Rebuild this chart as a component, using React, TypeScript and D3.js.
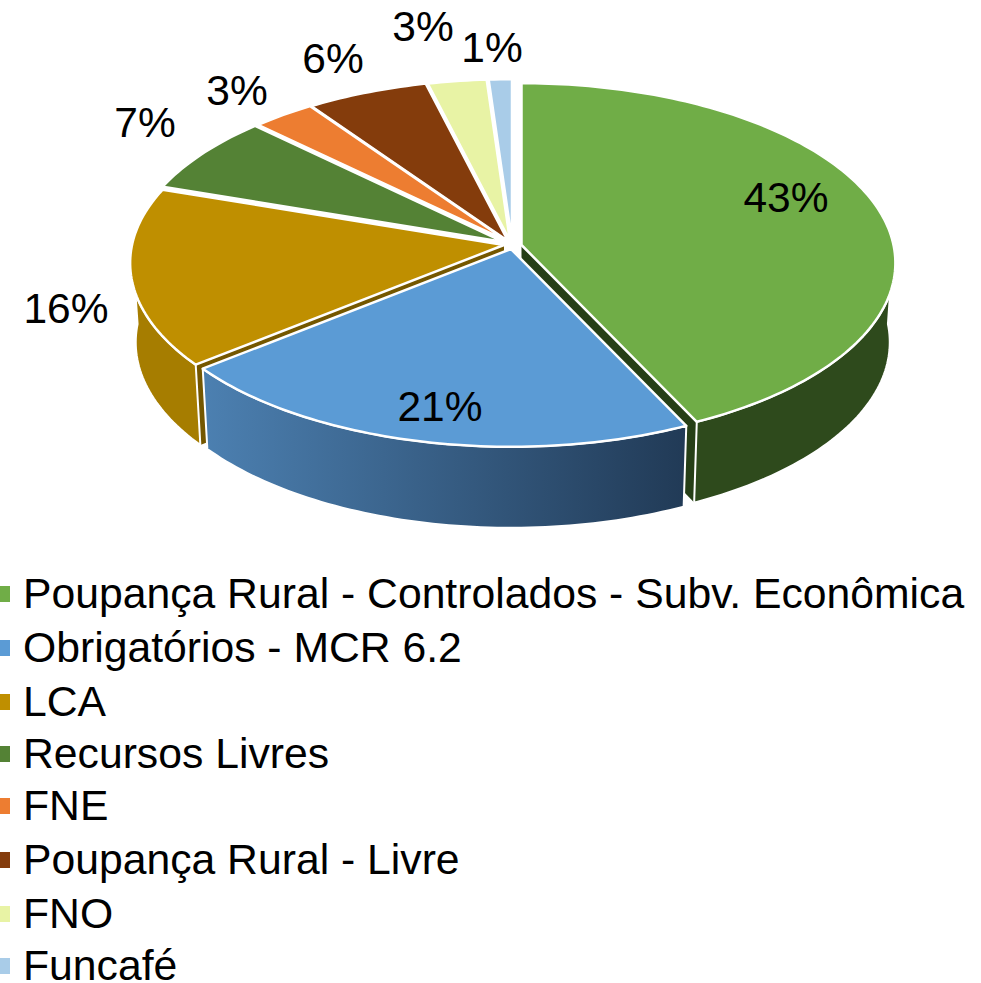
import React from 'react';
import * as d3 from 'd3';

const categories = [
  'Poupança Rural - Controlados - Subv. Econômica',
  'Obrigatórios - MCR 6.2',
  'LCA',
  'Recursos Livres',
  'FNE',
  'Poupança Rural - Livre',
  'FNO',
  'Funcafé',
];
// the labels show them rounded
const shares = [42.95, 21.2, 16.05, 7.1, 3, 5.8, 2.8, 1.1];
const colors = ['#70ad47', '#5b9bd5', '#bf8f00', '#548235', '#ed7d31', '#843c0c', '#e8f3a5', '#a9cce8'];
const wallColors = ['#2e4a1c', '', '#a67d00', '', '', '', '', ''];
const cutColors = ['#263f17', '', '#745700', '', '', '', '', ''];

// where each slice's tip ends up once the pie is pulled apart
const tips: [number, number][] = [
  [521.5, 245], [511, 249], [504, 245], [504, 242], [507, 241], [508, 241], [510, 241], [512, 241],
];
const labelSpots: [number, number][] = [
  [786, 198], [440, 407], [66, 309], [145, 123], [237, 91], [333, 59], [423, 27], [492, 48],
];
const legendRows = [594, 648, 702, 754, 806, 860, 914, 966];

const RX = 372;
const RY = 178;
const PERSP = 0.1;
const WALL = 79;
const FONT = 'Liberation Sans, Arial, sans-serif';

const pie = d3.pie<number>().sort(null).value((d) => d);
const arcs = pie(shares);

type Pt = [number, number];

function topPoint(tip: Pt, a: number): Pt {
  const u = Math.sin(a);
  const v = -Math.cos(a);
  const w = 1 - PERSP * v;
  return [tip[0] + (RX * u) / w, tip[1] + (RY * v) / w];
}

function bottomPoint(tip: Pt, p: Pt, a: number): Pt {
  const v = -Math.cos(a);
  return [tip[0] + (p[0] - tip[0]) * 0.985, p[1] + WALL + 2 * Math.max(v, 0)];
}

function arcPoints(tip: Pt, a0: number, a1: number): Pt[] {
  const n = Math.max(2, Math.ceil((a1 - a0) / 0.02));
  const step = d3.scaleLinear().domain([0, n]).range([a0, a1]);
  return d3.range(n + 1).map((i) => topPoint(tip, step(i)));
}

const line = d3.line<Pt>();

export default function App() {
  const order = [7, 6, 5, 4, 3, 2, 0, 1];
  return (
    <svg
      width={981}
      height={983}
      style={{ position: 'absolute', left: 0, top: 0, background: '#fff' }}
      fontFamily={FONT}
    >
      <defs>
        <linearGradient id="blueWall" gradientUnits="userSpaceOnUse" x1={203} x2={687} y1={0} y2={0}>
          <stop offset="0" stopColor="#4c80b1" />
          <stop offset="1" stopColor="#213a56" />
        </linearGradient>
      </defs>
      {order.map((i) => {
        const d = arcs[i];
        const tip = tips[i];
        const top = arcPoints(tip, d.startAngle, d.endAngle);
        const a0 = Math.max(d.startAngle, Math.PI / 2);
        const a1 = Math.min(d.endAngle, (Math.PI * 3) / 2);
        const wallFill = i === 1 ? 'url(#blueWall)' : wallColors[i];
        const front = a1 > a0 ? arcPoints(tip, a0, a1) : [];
        const n = front.length - 1;
        const frontBottom = front.map((p, j) => bottomPoint(tip, p, a0 + ((a1 - a0) * j) / n));
        const outer = front.length ? [...front, ...frontBottom.slice().reverse()] : [];
        // cut faces that look towards the viewer
        const cutAngle = i === 0 ? d.endAngle : i === 2 ? d.startAngle : null;
        let cut: Pt[] = [];
        if (cutAngle !== null) {
          const rim = topPoint(tip, cutAngle);
          cut = [tip, rim, bottomPoint(tip, rim, cutAngle), [tip[0], tip[1] + WALL]];
        }
        return (
          <g key={categories[i]} stroke="#fff" strokeWidth={2.5} strokeLinejoin="round">
            {cut.length > 0 && <path d={line(cut) + 'Z'} fill={cutColors[i]} stroke="none" />}
            {outer.length > 0 && <path d={line(outer) + 'Z'} fill={wallFill} strokeWidth={2} />}
            <path d={line([tip, ...top]) + 'Z'} fill={colors[i]} />
          </g>
        );
      })}
      {shares.map((s, i) => (
        <text key={i} x={labelSpots[i][0]} y={labelSpots[i][1]} dy="0.33em" textAnchor="middle" fontSize={42.5} fill="#000">
          {Math.round(s)}%
        </text>
      ))}
      {categories.map((c, i) => (
        <g key={c}>
          <rect x={-6} y={legendRows[i] - 8} width={16} height={16} fill={colors[i]} />
          <text x={23} y={legendRows[i]} dy="0.33em" fontSize={42.7} fill="#000">
            {c}
          </text>
        </g>
      ))}
    </svg>
  );
}
